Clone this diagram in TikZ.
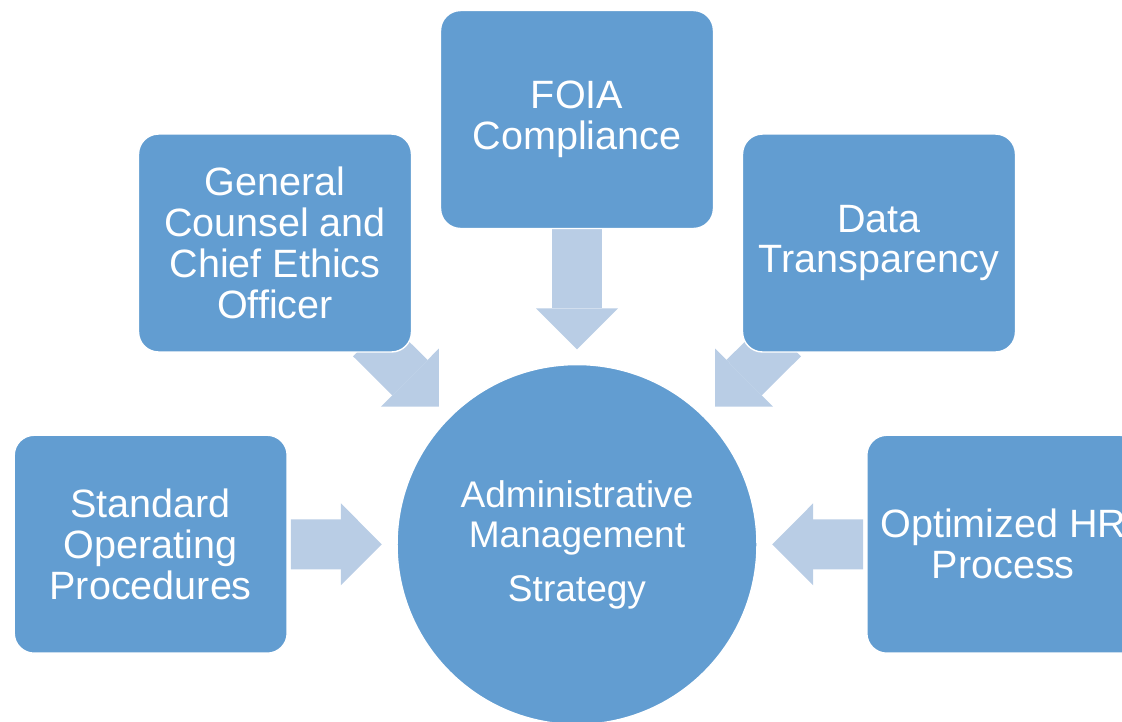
\documentclass[tikz,border=0pt]{standalone}
\usepackage{fontspec}
\setmainfont{Liberation Sans}
\usetikzlibrary{arrows.meta,backgrounds}
\definecolor{boxblue}{HTML}{629DD1}
\definecolor{flowblue}{HTML}{B9CDE5}

\begin{document}
\begin{tikzpicture}[x=0.02cm, y=-0.02cm,
  box/.style={rectangle, rounded corners=0.4cm, fill=boxblue, draw=white, line width=0.8pt,
    minimum width=5.46cm, minimum height=4.36cm, inner sep=0pt, text=white, align=center,
    font=\fontsize{22.5}{23.3}\selectfont},
  hubnode/.style={circle, fill=boxblue, draw=white, line width=0.8pt, minimum size=7.2cm,
    inner sep=0pt, text=white, align=center, font=\fontsize{21.1}{22.8}\selectfont},
  flow/.style={draw=flowblue, line width=1cm,
    -{Triangle[width=1.64cm, length=0.82cm, line width=0pt]}, shorten >=0.29cm}]
\useasboundingbox (0,0) rectangle (1122,721);
\clip (0,0) rectangle (1122,721);
\node[hubnode] (hub) at (577,544.5) {Administrative\\Management\\[0.28cm]Strategy};
\node[box] (foia) at (577,119.5) {FOIA\\Compliance};
\node[box] (counsel) at (275,243) {General\\Counsel and\\Chief Ethics\\Officer};
\node[box] (data) at (879,243) {Data\\Transparency};
\node[box] (sop) at (150.7,544.2) {Standard\\Operating\\Procedures};
\node[box] (hr) at (1003.3,544.2) {Optimized HR\\Process};
% arrows into the hub
\begin{scope}[on background layer]
\draw[flow] (foia) -- (hub);
\draw[flow, shorten <=-0.4cm] (counsel) -- (hub);
\draw[flow, shorten <=-0.4cm] (data) -- (hub);
\draw[flow, shorten <=0.06cm] (sop) -- (hub);
\draw[flow, shorten <=0.06cm] (hr) -- (hub);
\end{scope}
\end{tikzpicture}
\end{document}
